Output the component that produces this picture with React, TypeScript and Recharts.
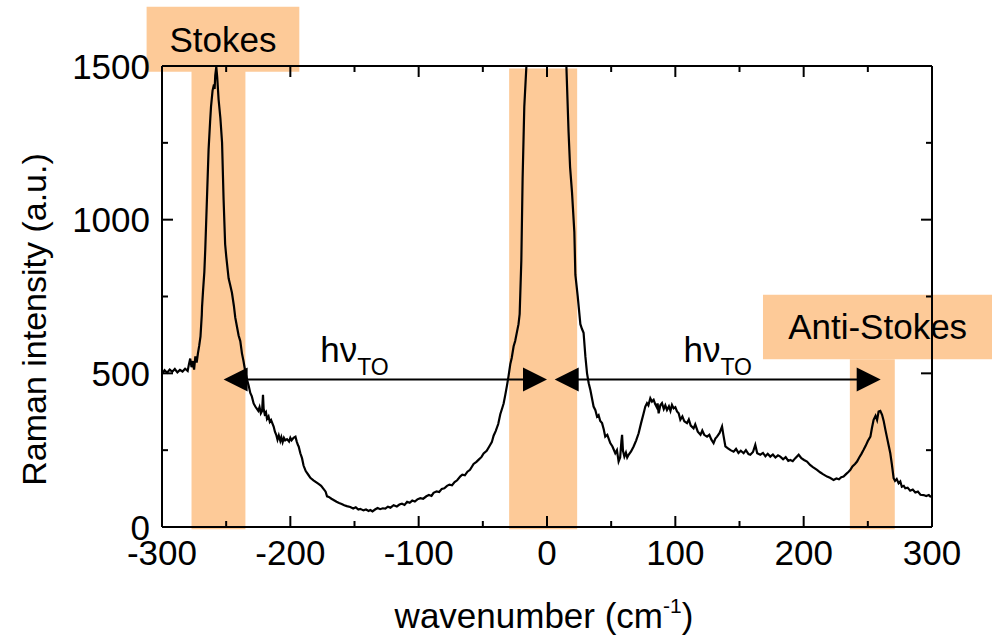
import { LineChart, Line, XAxis, YAxis, ReferenceArea, ReferenceLine, Label } from "recharts";

const FONT = "'Liberation Sans', Arial, Helvetica, sans-serif";
const ORANGE = "#fdca98";

// Raman spectrum (cm^-1, a.u.)
const wavenumber = [
  -300, -298, -296, -294, -292, -290, -288, -286, -284, -282,
  -280, -279, -278, -277, -276, -275, -274, -273, -272, -271,
  -270, -269, -268.8, -268, -267, -266.3, -265, -263.7, -262.5, -261.8,
  -260.6, -259.5, -259, -258.5, -257.7, -257, -255.9, -254.5, -253.2, -252,
  -250.8, -249.9, -248.1, -247, -245.5, -244, -242.9, -241.5, -240.3, -239,
  -237.7, -236.5, -235.1, -233.5, -232.5, -231.2, -230, -228.6, -227.3, -226,
  -225, -224, -223, -222, -221.3, -220.8, -220, -219, -218.2, -217,
  -216, -215, -213, -212, -211, -210, -209, -207.8, -207, -206,
  -205, -204, -202.6, -201, -200, -199, -197.5, -196, -195, -194,
  -193.5, -192.2, -190.9, -189.7, -188, -186, -184.4, -182, -180, -178,
  -176, -174, -172.5, -171.4, -170, -168, -166.3, -164, -162, -160,
  -158, -156, -153.3, -151, -149, -147, -145.5, -143, -141, -139,
  -137.7, -136, -134, -132, -130, -128, -126, -124, -122, -119.5,
  -117, -115, -113, -111, -109, -107, -105, -103, -101, -98.7,
  -96.5, -94, -92, -90, -88.4, -86, -84, -82, -80, -77.9,
  -76, -74, -72, -70, -67.5, -66, -64, -62, -60, -57.2,
  -55, -53, -51, -49.4, -47, -45, -43, -41.6, -40, -38,
  -36.4, -34.8, -33.8, -32.5, -31.2, -30, -28.6, -27.5, -26, -24.8,
  -23.4, -22.2, -21.3, -20, -19, -17.7, -16.1, -12, -6, 0,
  6, 12, 15.1, 16.8, 18, 19.5, 21.3, 22.1, 23.9, 26,
  27.2, 28.5, 29.9, 31.2, 32.5, 33.8, 35, 36.3, 37.7, 39,
  40.2, 41.5, 42.9, 44.2, 45.4, 47, 49.3, 51, 53.2, 54.5,
  55.8, 57, 58, 58.5, 59.2, 60.3, 61.5, 62.5, 63.6, 65.5,
  67.5, 69.5, 71.4, 73.3, 75.3, 76.6, 77.9, 79, 80.5, 81.8,
  83.1, 84.3, 85.5, 86.2, 87, 88.3, 89.6, 91, 92.2, 93.5,
  95, 96.2, 97.4, 98.7, 100, 101.3, 102.6, 103.9, 105.5, 107,
  109.1, 110.5, 112, 114.2, 115.5, 117.5, 119.6, 121, 122.5, 124.7,
  126.5, 128, 129.8, 131.2, 132.5, 134.5, 136.4, 137.5, 139, 141,
  143, 145.4, 147.3, 149.2, 151, 153.2, 155, 157, 158.4, 160.5,
  162.3, 163.8, 166.2, 168.3, 170.2, 172, 174, 176, 178, 180,
  181.8, 184, 186, 188, 189.6, 191.5, 193.5, 196.1, 198.2, 200.3,
  202.6, 205, 207.2, 210.4, 212.8, 215, 218.2, 220.5, 223.3, 225.5,
  227.5, 229.3, 231.1, 233, 235, 236.4, 238, 240, 241.6, 243.3,
  245, 246.7, 248.3, 250, 252, 253.2, 254.5, 256, 257.2, 258.4,
  259.7, 261.1, 262.3, 263.7, 265, 266.2, 267.5, 268.7, 270.1, 271.2,
  272.5, 274, 275.3, 276.5, 278, 279.2, 281, 283, 285, 287,
  289, 291, 293.5, 295.5, 297.5, 298.7, 300,
];

const intensity = [
  498, 510, 502, 512, 505, 514, 503, 511, 506, 515,
  508, 530, 548, 520, 540, 512, 555, 535, 565, 590,
  620, 690, 716, 770, 830, 902, 1065, 1228, 1320, 1368,
  1420, 1440, 1425, 1470, 1497, 1465, 1391, 1330, 1251, 1065,
  920, 879, 809, 790, 762, 720, 681, 650, 623, 605,
  565, 540, 505, 476, 460, 436, 425, 402, 392, 384,
  378, 390, 370, 378, 430, 385, 368, 374, 352, 360,
  342, 348, 327, 310, 300, 284, 298, 280, 292, 276,
  290, 282, 286, 278, 290, 282, 290, 294, 278, 266,
  262, 240, 224, 200, 182, 170, 160, 152, 146, 140,
  134, 123, 115, 100, 98, 92, 88, 82, 78, 75,
  71, 68, 65, 60, 64, 57, 59, 54, 57, 52,
  55, 51, 57, 62, 58, 61, 60, 66, 63, 71,
  67, 73, 76, 72, 82, 79, 86, 83, 90, 94,
  92, 100, 104, 101, 111, 116, 114, 124, 126, 134,
  138, 136, 146, 152, 165, 170, 168, 180, 186, 205,
  212, 220, 228, 239, 248, 262, 276, 297, 312, 335,
  367, 388, 402, 430, 460, 490, 530, 550, 588, 605,
  635, 660, 693, 867, 1135, 1367, 1496, 2600, 6000, 9000,
  6000, 2600, 1500, 1286, 1170, 1088, 960, 821, 752, 660,
  645, 632, 555, 500, 468, 446, 420, 392, 380, 359,
  364, 345, 338, 318, 294, 300, 273, 262, 240, 250,
  213, 226, 280, 300, 248, 229, 242, 226, 235, 246,
  262, 282, 305, 338, 370, 392, 403, 396, 419, 408,
  414, 400, 390, 402, 370, 396, 403, 384, 396, 381,
  393, 378, 397, 386, 390, 376, 370, 349, 360, 344,
  338, 350, 330, 321, 334, 310, 300, 314, 300, 294,
  300, 285, 273, 288, 294, 306, 327, 298, 262, 256,
  250, 245, 254, 241, 248, 240, 250, 237, 235, 244,
  267, 240, 235, 241, 230, 238, 229, 236, 226, 233,
  229, 220, 227, 215, 218, 214, 224, 235, 224, 218,
  213, 202, 195, 186, 178, 172, 164, 160, 153, 158,
  155, 162, 164, 172, 180, 186, 197, 205, 213, 226,
  238, 251, 264, 280, 294, 322, 349, 362, 348, 376,
  378, 365, 346, 316, 290, 266, 240, 205, 159, 150,
  156, 142, 148, 131, 134, 126, 128, 118, 122, 112,
  115, 105, 104, 101, 104, 99, 100,
];

const xTicks = [-300, -250, -200, -150, -100, -50, 0, 50, 100, 150, 200, 250, 300];
const yTicks = [0, 250, 500, 750, 1000, 1250, 1500];
const X_MIN = -300, X_MAX = 300, Y_MAX = 1500;

// highlighted regions (Stokes, laser line, anti-Stokes)
const bands = [
  { x1: -277, x2: -235, y1: -7, y2: 1492 },
  { x1: -29.5, x2: 23.5, y1: -7, y2: 1492 },
  { x1: 236, x2: 271, y1: -7, y2: 546 },
];

const tags = [
  { text: "Stokes", x1: -312, x2: -193, y1: 1481, y2: 1693 },
  { text: "Anti-Stokes", x1: 168.3, x2: 347, y1: 546, y2: 756 },
];

const arrows = [
  { from: -252, to: 0, y: 480, labelAt: -150 },
  { from: 6, to: 260, y: 480, labelAt: 133 },
];

const data = wavenumber.map((x, i) => ({ x, y: intensity[i] }));

function BottomTick({ x, y, payload }: any) {
  const major = payload.value % 100 === 0;
  return (
    <g>
      <line x1={x} x2={x} y1={y} y2={y - (major ? 11 : 6)} stroke="#000" strokeWidth={2} />
      {major && (
        <text x={x} y={y + 38} textAnchor="middle" fontSize={35} fontFamily={FONT} fill="#000">
          {payload.value}
        </text>
      )}
    </g>
  );
}

function LeftTick({ x, y, payload }: any) {
  const major = payload.value % 500 === 0;
  return (
    <g>
      <line x1={x} x2={x + (major ? 11 : 6)} y1={y} y2={y} stroke="#000" strokeWidth={2} />
      {major && (
        <text x={x - 12} y={y} dy="0.36em" textAnchor="end" fontSize={35} fontFamily={FONT} fill="#000">
          {payload.value}
        </text>
      )}
    </g>
  );
}

// top frame edge with inward ticks, drawn above the orange boxes
const topEdge = (p: any) => {
  const { x1, x2, y1 } = p;
  return (
    <g>
      <line x1={x1} x2={x2} y1={y1} y2={y1} stroke="#000" strokeWidth={2} />
      {xTicks.map((v) => {
        const tx = x1 + ((v - X_MIN) / (X_MAX - X_MIN)) * (x2 - x1);
        return <line key={v} x1={tx} x2={tx} y1={y1} y2={y1 + (v % 100 === 0 ? 11 : 6)} stroke="#000" strokeWidth={2} />;
      })}
    </g>
  );
};

// right frame edge with inward ticks
const rightEdge = (p: any) => {
  const { x1, y1, y2 } = p;
  const yb = Math.max(y1, y2), yt = Math.min(y1, y2);
  return (
    <g>
      <line x1={x1} x2={x1} y1={yt} y2={yb} stroke="#000" strokeWidth={2} />
      {yTicks.map((v) => {
        const ty = yb - (v / Y_MAX) * (yb - yt);
        return <line key={v} x1={x1} x2={x1 - (v % 500 === 0 ? 11 : 6)} y1={ty} y2={ty} stroke="#000" strokeWidth={2} />;
      })}
    </g>
  );
};

function arrowShape(t: number) {
  return (p: any) => {
    const { x1, x2, y1 } = p;
    const y = y1;
    const lx = x1 + t * (x2 - x1);
    return (
      <g>
        <line x1={x1 + 4} x2={x2 - 4} y1={y} y2={y} stroke="#000" strokeWidth={2} />
        <polygon points={`${x1},${y} ${x1 + 24},${y - 12} ${x1 + 24},${y + 12}`} fill="#000" />
        <polygon points={`${x2},${y} ${x2 - 24},${y - 12} ${x2 - 24},${y + 12}`} fill="#000" />
        <text x={lx} y={y - 17} textAnchor="middle" fontSize={35} fontFamily={FONT} fill="#000">
          hν<tspan fontSize={23} dy={13}>TO</tspan>
        </text>
      </g>
    );
  };
}

export default function App() {
  return (
    <div style={{ position: "absolute", left: 0, top: 0, background: "#fff" }}>
      <LineChart width={992} height={640} data={data} margin={{ top: 66, right: 60, bottom: 0, left: 0 }}>
        {bands.map((b, i) => (
          <ReferenceArea key={`b${i}`} x1={b.x1} x2={b.x2} y1={b.y1} y2={b.y2} fill={ORANGE} fillOpacity={1} stroke="none" ifOverflow="visible" />
        ))}
        {tags.map((t) => (
          <ReferenceArea
            key={t.text}
            x1={t.x1}
            x2={t.x2}
            y1={t.y1}
            y2={t.y2}
            fill={ORANGE}
            fillOpacity={1}
            stroke="none"
            ifOverflow="visible"
            label={{ value: t.text, position: "center", fontSize: 35, fill: "#000", fontFamily: FONT }}
          />
        ))}
        <Line type="linear" dataKey="y" stroke="#000" strokeWidth={2.2} dot={false} isAnimationActive={false} />
        <ReferenceLine segment={[{ x: X_MIN, y: Y_MAX }, { x: X_MAX, y: Y_MAX }]} shape={topEdge} />
        <ReferenceLine segment={[{ x: X_MAX, y: 0 }, { x: X_MAX, y: Y_MAX }]} shape={rightEdge} />
        {arrows.map((a, i) => (
          <ReferenceLine
            key={`a${i}`}
            segment={[{ x: a.from, y: a.y }, { x: a.to, y: a.y }]}
            shape={arrowShape((a.labelAt - a.from) / (a.to - a.from))}
          />
        ))}
        <XAxis
          type="number"
          dataKey="x"
          domain={[X_MIN, X_MAX]}
          ticks={xTicks}
          interval={0}
          height={113}
          tickSize={0}
          tickMargin={0}
          tickLine={false}
          axisLine={{ stroke: "#000", strokeWidth: 2 }}
          tick={<BottomTick />}
        >
          <Label
            content={({ viewBox }: any) => (
              <text x={viewBox.x + viewBox.width / 2 - 3} y={viewBox.y + 101} textAnchor="middle" fontSize={35} fontFamily={FONT} fill="#000">
                wavenumber (cm<tspan fontSize={21} dy={-15}>-1</tspan><tspan dy={15}>)</tspan>
              </text>
            )}
          />
        </XAxis>
        <YAxis
          type="number"
          domain={[0, Y_MAX]}
          allowDataOverflow
          ticks={yTicks}
          interval={0}
          width={162}
          tickSize={0}
          tickMargin={0}
          tickLine={false}
          axisLine={{ stroke: "#000", strokeWidth: 2 }}
          tick={<LeftTick />}
        >
          <Label
            content={({ viewBox }: any) => {
              const cx = 46;
              const cy = viewBox.y + viewBox.height / 2 + 23;
              return (
                <text x={cx} y={cy} transform={`rotate(-90 ${cx} ${cy})`} textAnchor="middle" fontSize={34} fontFamily={FONT} fill="#000">
                  Raman intensity (a.u.)
                </text>
              );
            }}
          />
        </YAxis>
      </LineChart>
    </div>
  );
}
